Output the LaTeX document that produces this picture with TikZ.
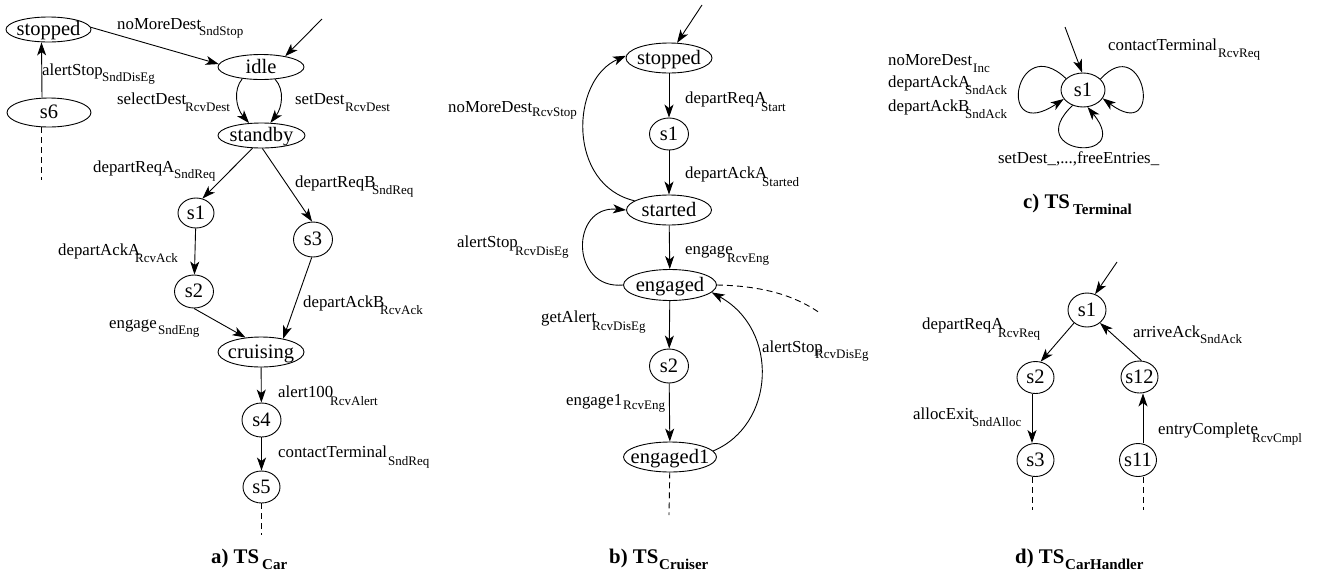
\documentclass[tikz,border=0pt]{standalone}
\usepackage{fontspec}
\setmainfont{Liberation Serif}
\usetikzlibrary{shapes.geometric,arrows.meta}
\newcommand{\lab}[4][7]{\rlap{#2}\hspace*{#3pt}\raisebox{-#1pt}{\fontsize{13}{13}\selectfont #4}}
\newcommand{\ttl}[3]{\rlap{\bfseries #1}\hspace*{#2pt}\raisebox{-6.5pt}{\fontsize{15}{15}\selectfont\bfseries #3}}
\newcommand{\stx}[1]{\makebox[0pt]{\raisebox{-0.3em}[0pt][0pt]{#1}}}
\begin{document}
\begin{tikzpicture}[x=1pt,y=-1pt,
  st/.style={ellipse, draw, inner sep=0pt, line width=0.9pt, font=\fontsize{20.5}{22}\selectfont},
  lbl/.style={anchor=base west, inner sep=0pt, font=\fontsize{16.8}{18}\selectfont},
  tl/.style={anchor=base west, inner sep=0pt, font=\fontsize{20.8}{22}\selectfont},
  tr/.style={-{Stealth[length=13pt,width=9pt,inset=3.5pt]}, line width=0.9pt},
  dsh/.style={dash pattern=on 6pt off 4pt, line width=0.9pt}
]
\useasboundingbox (0,0) rectangle (1318,579);

% ---------- a) TS_Car ----------
\node[st, minimum width=85pt, minimum height=25pt] (aStop) at (48.5,29.5) {\stx{stopped}};
\node[st, minimum width=86pt, minimum height=25pt] (aIdle) at (261,67) {\stx{idle}};
\node[st, minimum width=84pt, minimum height=29pt] (aS6) at (49,112.5) {\stx{s6}};
\node[st, minimum width=87pt, minimum height=25pt] (aStandby) at (261.5,135.5) {\stx{standby}};
\node[st, minimum width=36pt, minimum height=30pt] (aS1) at (196,213) {\stx{s1}};
\node[st, minimum width=39pt, minimum height=35pt] (aS3) at (313,239.5) {\stx{s3}};
\node[st, minimum width=39pt, minimum height=33pt] (aS2) at (194,291.5) {\stx{s2}};
\node[st, minimum width=86pt, minimum height=30pt] (aCruise) at (261,352) {\stx{cruising}};
\node[st, minimum width=39pt, minimum height=34pt] (aS4) at (261.5,420) {\stx{s4}};
\node[st, minimum width=37pt, minimum height=32pt] (aS5) at (261.5,487) {\stx{s5}};

\coordinate (aInit) at (322,19);
\draw[tr] (aInit) -- (aIdle.24);
\draw[tr] (aStop.3) -- (aIdle.176);
\draw[tr] ([xshift=-7pt]aS6.north) -- ([xshift=-7pt]aStop.south);
\draw[tr] (aIdle.212) .. controls (233,90) and (236,108) .. (aStandby.135);
\draw[tr] (aIdle.319) .. controls (285,90) and (282,108) .. (aStandby.55);
\draw[tr] (aStandby.235) -- (aS1.66);
\draw[tr] (aStandby.274) -- (aS3.93);
\draw[tr] (aS1) -- (aS2);
\draw[tr] (aS2.270) -- (aCruise.137);
\draw[tr] (aS3.266) -- (aCruise.31);
\draw[tr] (aCruise) -- (aS4);
\draw[tr] (aS4) -- (aS5);
\coordinate (aEnd) at (261.5,535);
\draw[dsh] (aS5) -- (aEnd);
\coordinate (aEnd6) at (41,180);
\draw[dsh] ([xshift=-8pt]aS6.south) -- (aEnd6);

\node[lbl] (aL1) at (117,29) {\lab[6]{noMoreDest}{82}{SndStop}};
\node[lbl] (aL2) at (42,75) {\lab[6]{alertStop}{60}{SndDisEg}};
\node[lbl] (aL3) at (117,104) {\lab{selectDest}{68}{RcvDest}};
\node[lbl] (aL4) at (295,104) {\lab{setDest}{50}{RcvDest}};
\node[lbl] (aL5) at (93,172) {\lab[6]{departReqA}{81}{SndReq}};
\node[lbl] (aL6) at (295,187) {\lab{departReqB}{77}{SndReq}};
\node[lbl] (aL7) at (58,255) {\lab{departAckA}{77}{RcvAck}};
\node[lbl] (aL8) at (109,328) {\lab[6]{engage}{49}{SndEng}};
\node[lbl] (aL9) at (303,307) {\lab{departAckB}{77}{RcvAck}};
\node[lbl] (aL10) at (278,397) {\lab[8]{alert100}{52}{RcvAlert}};
\node[lbl] (aL11) at (278,457) {\lab[8]{contactTerminal}{110}{SndReq}};
\node[tl] (aT) at (211,563) {\ttl{a) TS}{51}{Car}};

% ---------- b) TS_Cruiser ----------
\node[st, minimum width=86pt, minimum height=30pt] (bStop) at (669,58) {\stx{stopped}};
\node[st, minimum width=39pt, minimum height=32pt] (bS1) at (669,134) {\stx{s1}};
\node[st, minimum width=85pt, minimum height=30pt] (bStart) at (669,210) {\stx{started}};
\node[st, minimum width=93pt, minimum height=31pt] (bEng) at (670,285) {\stx{engaged}};
\node[st, minimum width=39pt, minimum height=34pt] (bS2) at (669,366) {\stx{s2}};
\node[st, minimum width=93pt, minimum height=30pt] (bEng1) at (670,457) {\stx{engaged1}};

\coordinate (bInit) at (702,5);
\draw[tr] (bInit) -- (bStop.62);
\draw[tr] (bStop) -- (bS1);
\draw[tr] (bS1) -- (bStart);
\draw[tr] (bStart) -- (bEng);
\draw[tr] (bEng) -- (bS2);
\draw[tr] (bS2) -- (bEng1);
\draw[tr] (bStart.165) .. controls (567,185) and (570,80) .. (bStop.177);
\draw[tr] (bEng.180) .. controls (570,290) and (570,205) .. (bStart.180);
\draw[tr] (bEng1.8) .. controls (775,425) and (780,330) .. (bEng.-10);
\coordinate (bDash) at (820,313);
\draw[dsh] (bEng.0) .. controls (765,286) and (795,296) .. (bDash);
\coordinate (bEnd) at (669,515);
\draw[dsh] (bEng1) -- (bEnd);

\node[lbl] (bL1) at (685,103) {\lab[8]{departReqA}{76}{Start}};
\node[lbl] (bL2) at (685,178) {\lab[8]{departAckA}{77}{Started}};
\node[lbl] (bL3) at (448,112) {\lab[4]{noMoreDest}{84}{RcvStop}};
\node[lbl] (bL4) at (457,247) {\lab[8]{alertStop}{58}{RcvDisEg}};
\node[lbl] (bL5) at (685,254) {\lab[8]{engage}{42}{RcvEng}};
\node[lbl] (bL6) at (541,322) {\lab[8]{getAlert}{51}{RcvDisEg}};
\node[lbl] (bL7) at (566,405) {\lab[4]{engage1}{57}{RcvEng}};
\node[lbl] (bL8) at (762,352) {\lab[6]{alertStop}{53}{RcvDisEg}};
\node[tl] (bT) at (609,563) {\ttl{b) TS}{50}{Cruiser}};

% ---------- c) TS_Terminal ----------
\node[st, minimum width=44pt, minimum height=34pt] (cS1) at (1083,90) {\stx{s1}};
\coordinate (cInit) at (1065,27);
\draw[tr] (cInit) -- (cS1.93);
\draw[tr] (cS1.146) .. controls (1015,30) and (995,145) .. (cS1.205);
\draw[tr] (cS1.32) .. controls (1145,30) and (1165,145) .. (cS1.337);
\draw[tr] (cS1.236) .. controls (1020,155) and (1135,165) .. (cS1.285);

\node[lbl] (cL1) at (888,65) {\lab{noMoreDest}{85}{Inc}};
\node[lbl] (cL2) at (888,87) {\lab{departAckA}{77}{SndAck}};
\node[lbl] (cL3) at (888,111) {\lab{departAckB}{77}{SndAck}};
\node[lbl] (cL4) at (1108,50) {\lab{contactTerminal}{110}{RcvReq}};
\node[lbl] (cL5) at (998,163) {setDest\_,...,freeEntries\_};
\node[tl] (cT) at (1023,208) {\ttl{c) TS}{50}{Terminal}};

% ---------- d) TS_CarHandler ----------
\node[st, minimum width=38pt, minimum height=34pt] (dS1) at (1087,310) {\stx{s1}};
\node[st, minimum width=37pt, minimum height=32pt] (dS2) at (1035.5,377.5) {\stx{s2}};
\node[st, minimum width=37pt, minimum height=32pt] (dS12) at (1139.5,377) {\stx{s12}};
\node[st, minimum width=37pt, minimum height=33pt] (dS3) at (1035.5,460) {\stx{s3}};
\node[st, minimum width=37pt, minimum height=33pt] (dS11) at (1138,460) {\stx{s11}};

\coordinate (dInit) at (1117,262);
\draw[tr] (dInit) -- (dS1.63);
\draw[tr] (dS1.225) -- (dS2.72);
\draw[tr] (dS12.83) -- (dS1.315);
\draw[tr] ([xshift=-3.5pt]dS2.south) -- ([xshift=-3.5pt]dS3.north);
\draw[tr] ([xshift=5pt]dS11.north) -- ([xshift=3.5pt]dS12.south);
\coordinate (dE3) at (1032,510);
\draw[dsh] ([xshift=-3.5pt]dS3.south) -- (dE3);
\coordinate (dE11) at (1143,510);
\draw[dsh] ([xshift=5pt]dS11.south) -- (dE11);

\node[lbl] (dL1) at (922,329) {\lab[8]{departReqA}{76}{RcvReq}};
\node[lbl] (dL2) at (1133,337) {\lab[6]{arriveAck}{67}{SndAck}};
\node[lbl] (dL3) at (913,419) {\lab{allocExit}{59}{SndAlloc}};
\node[lbl] (dL4) at (1158,434) {\lab[8]{entryComplete}{94}{RcvCmpl}};
\node[tl] (dT) at (1015,563) {\ttl{d) TS}{50}{CarHandler}};
\end{tikzpicture}
\end{document}
